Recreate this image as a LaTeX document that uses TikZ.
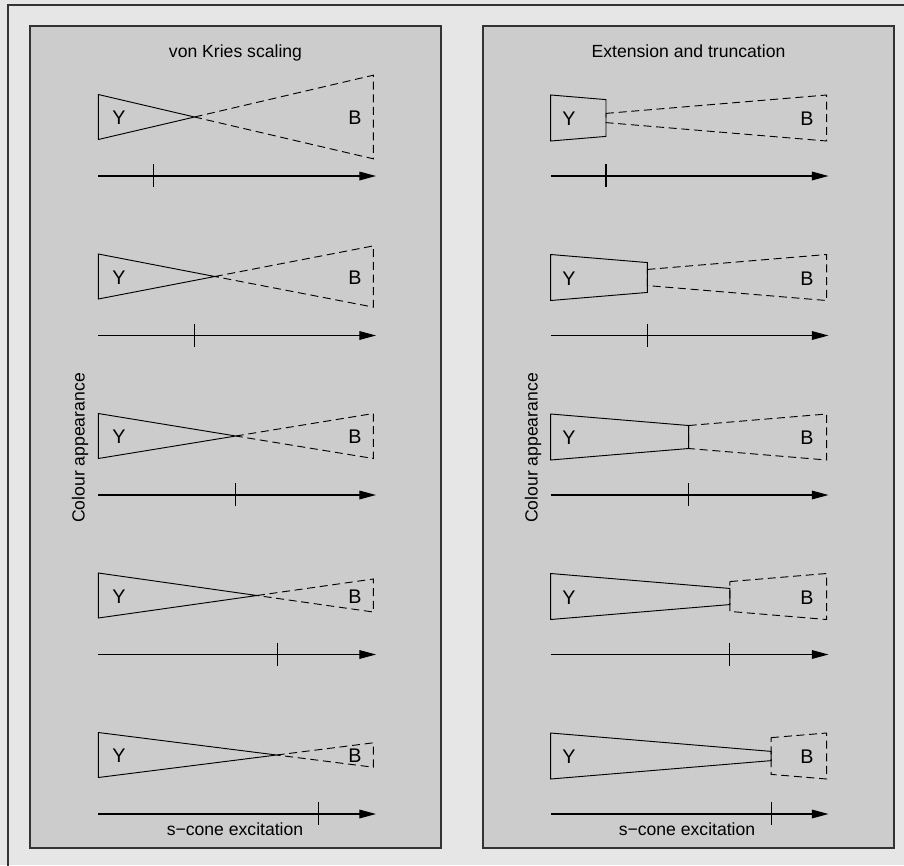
\documentclass[tikz,border=0pt]{standalone}
\usepackage{fontspec}
\setmainfont{Liberation Sans}
\usetikzlibrary{arrows.meta}
\definecolor{bgc}{HTML}{E6E6E6}
\definecolor{panelc}{HTML}{CCCCCC}
\definecolor{edgec}{HTML}{333333}
\tikzset{
  panel/.style={fill=panelc, draw=edgec, line width=1.1pt},
  shapeline/.style={line width=0.7pt, line join=miter},
  dashline/.style={line width=0.7pt, dash pattern=on 6pt off 3.5pt},
  axisline/.style={line width=0.9pt, -{Triangle[length=12.5pt,width=6.5pt]}},
  tickline/.style={line width=0.8pt},
  lbl/.style={font=\fontsize{13.2}{15}\selectfont, inner sep=0pt, anchor=base},
  letter/.style={font=\fontsize{14.8}{17}\selectfont, inner sep=0pt, anchor=base},
}
\begin{document}
\begin{tikzpicture}[x=0.75pt,y=-0.75pt]
\useasboundingbox (0,0) rectangle (904,865);
\fill[bgc] (0,0) rectangle (904,865);
\draw[edgec, line width=1pt] (8,870) -- (8,5) -- (910,5);
% panels
\draw[panel] (30,26) rectangle (441,848);
\draw[panel] (483,26) rectangle (894,848);
% titles
\node[lbl] (t1) at (235.5,57) {von Kries scaling};
\node[lbl] (t2) at (688.5,57) {Extension and truncation};
% left panel rows
\foreach \k/\hr in {0/41.8,1/30.6,2/22.5,3/16.5,4/12.2}{
  \pgfmathsetmacro{\cy}{117+159.5*\k}
  \pgfmathsetmacro{\X}{98.3+275*22.5/(22.5+\hr)}
  \pgfmathsetmacro{\xt}{153.3+41.3*\k}
  \draw[shapeline] (\X,\cy) -- (98.3,\cy-22.5) -- (98.3,\cy+22.5) -- cycle;
  \draw[dashline] (\X,\cy) -- (373.3,\cy-\hr) -- (373.3,\cy+\hr) -- cycle;
  \node[letter] (ly\k) at (119,\cy+7.5) {Y};
  \node[letter] (lb\k) at (355,\cy+7.5) {B};
  \coordinate (la\k) at (98.3,\cy+59);
  \coordinate (lz\k) at (376,\cy+59);
  \draw[axisline] (la\k) -- (lz\k);
  \draw[tickline] (\xt,\cy+47) -- (\xt,\cy+70);
}
% right panel rows
\foreach \k in {0,1,2,3,4}{
  \pgfmathsetmacro{\cy}{118+159.5*\k}
  \pgfmathsetmacro{\xt}{606+41.3*\k}
  \pgfmathsetmacro{\hy}{23*(826.7-\xt)/276}
  \pgfmathsetmacro{\hb}{23*(\xt-550.7)/276}
  \draw[shapeline] (\xt,\cy-\hy) -- (550.7,\cy-23) -- (550.7,\cy+23) -- (\xt,\cy+\hy) -- cycle;
  \draw[dashline] (\xt,\cy-\hb) -- (826.7,\cy-23) -- (826.7,\cy+23) -- (\xt,\cy+\hb) -- cycle;
  \node[letter] (ry\k) at (569,\cy+7.5) {Y};
  \node[letter] (rb\k) at (807,\cy+7.5) {B};
  \coordinate (ra\k) at (550.7,\cy+58);
  \coordinate (rz\k) at (828.5,\cy+58);
  \draw[axisline] (ra\k) -- (rz\k);
  \draw[tickline] (\xt,\cy+46) -- (\xt,\cy+69);
}
% axis labels
\node[lbl, anchor=center, rotate=90] (ca1) at (80,448) {Colour appearance};
\node[lbl, anchor=center, rotate=90] (ca2) at (533,448) {Colour appearance};
\node[lbl] (sx1) at (235,835) {s\textminus cone excitation};
\node[lbl] (sx2) at (687,835) {s\textminus cone excitation};
\end{tikzpicture}
\end{document}
